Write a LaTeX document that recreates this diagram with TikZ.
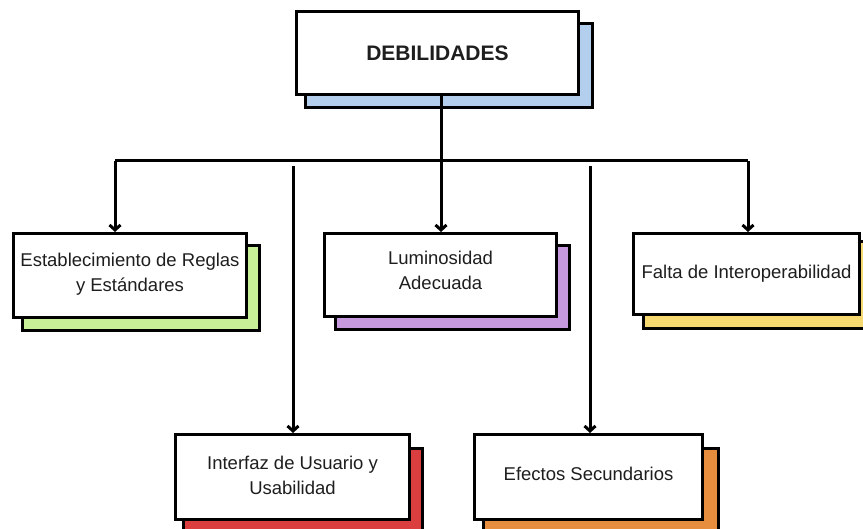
\documentclass[tikz,border=0pt]{standalone}
\usepackage{fontspec}
\setmainfont{Liberation Sans}
\usetikzlibrary{arrows.meta,calc}

\definecolor{shBlue}{RGB}{180,206,238}
\definecolor{shGreen}{RGB}{200,240,150}
\definecolor{shPurple}{RGB}{198,152,222}
\definecolor{shYellow}{RGB}{246,216,112}
\definecolor{shRed}{RGB}{218,62,62}
\definecolor{shOrange}{RGB}{230,142,62}
\definecolor{ink}{RGB}{30,30,30}

\tikzset{
  card/.style={draw=black, line width=3pt, fill=white, inner sep=0pt},
  cardshadow/.style={draw=black, line width=3pt, fill=#1, inner sep=0pt},
  cardtext/.style={inner sep=0pt, text=ink, align=center,
    font=\fontsize{18.5}{25}\selectfont},
  link/.style={line width=3pt, draw=black},
  arrowlink/.style={link, -{Straight Barb[length=5pt,width=11pt]}},
}

% place a box by its corners: #1 name, #2 top-left, #3 bottom-right, #4 style
\newcommand{\cardat}[4]{%
  \path let \p1=#2, \p2=#3 in
    node[#4, minimum width={\x2-\x1}, minimum height={\y1-\y2},
         anchor=north west] (#1) at (\p1) {};%
}

\begin{document}
\begin{tikzpicture}[x=1pt,y=-1pt]
  \useasboundingbox (0,0) rectangle (863,529);
  \clip (0,0) rectangle (863,529);

  % coloured backing cards
  \cardat{s0}{(304,22)}{(591,106)}{cardshadow=shBlue}
  \cardat{s1}{(21,244)}{(258,329)}{cardshadow=shGreen}
  \cardat{s2}{(334,244)}{(568,328)}{cardshadow=shPurple}
  \cardat{s3}{(642,240)}{(873,327)}{cardshadow=shYellow}
  \cardat{s4}{(182,447)}{(421,540)}{cardshadow=shRed}
  \cardat{s5}{(482,447)}{(717,540)}{cardshadow=shOrange}

  % white cards
  \cardat{top}{(295,10)}{(577,93)}{card}
  \cardat{reglas}{(12,232)}{(245,316)}{card}
  \cardat{luz}{(323,232)}{(555,315)}{card}
  \cardat{interop}{(632,232)}{(858,313)}{card}
  \cardat{ui}{(174,433)}{(408,518)}{card}
  \cardat{efectos}{(473,433)}{(701,518)}{card}

  % labels
  \node[cardtext, font=\fontsize{21}{25}\selectfont\bfseries] (topT) at (top.center) {DEBILIDADES};
  \node[cardtext, yshift=1.5pt] (reglasT) at (reglas.center) {Establecimiento de Reglas\\y Estándares};
  \node[cardtext, yshift=5pt] (luzT) at (luz.center) {Luminosidad\\Adecuada};
  \node[cardtext] (interopT) at (interop.center) {Falta de Interoperabilidad};
  \node[cardtext, yshift=2pt] (uiT) at (ui.center) {Interfaz de Usuario y\\Usabilidad};
  \node[cardtext, yshift=3pt] (efectosT) at (efectos.center) {Efectos Secundarios};

  % connector tree
  \coordinate (hub) at (441,161);
  \coordinate (hubL) at (115,161);
  \coordinate (hubR) at (748,161);
  \coordinate (dropL) at (293,166);
  \coordinate (dropR) at (590,166);

  \draw[link] (top.south -| hub) -- (hub);
  \draw[link] (hubL) -- (hubR);
  \draw[arrowlink] (hubL) -- (hubL |- reglas.north);
  \draw[arrowlink] (hub) -- (hub |- luz.north);
  \draw[arrowlink] (hubR) -- (hubR |- interop.north);
  \draw[arrowlink] (dropL) -- (dropL |- ui.north);
  \draw[arrowlink] (dropR) -- (dropR |- efectos.north);
\end{tikzpicture}
\end{document}
